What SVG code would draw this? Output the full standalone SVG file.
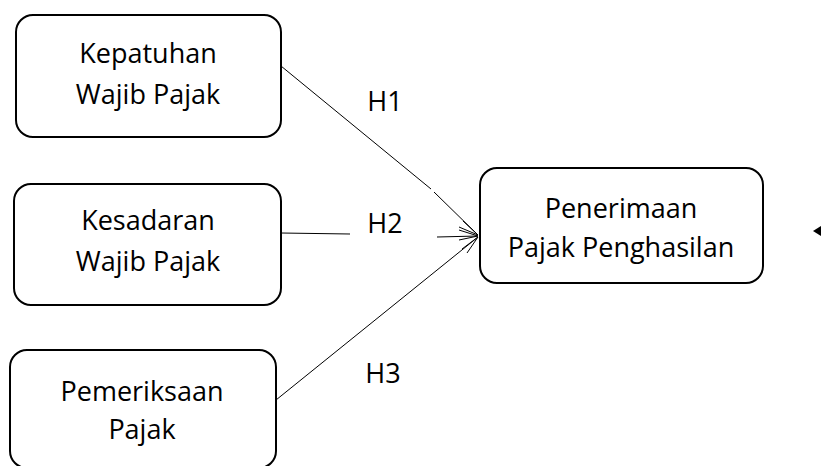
<svg xmlns="http://www.w3.org/2000/svg" width="821" height="466" viewBox="0 0 821 466">
<style>
.box{fill:#fff;stroke:#000;stroke-width:2}
.t{font-family:"Open Sans","Liberation Sans",sans-serif;font-size:27px;fill:#000;text-anchor:middle}
.c{stroke:#000;stroke-width:1;fill:none}
</style>
<rect width="821" height="466" fill="#fff"/>
<g id="n1"><rect class="box" x="16" y="15" width="265" height="122" rx="17"/><text class="t" x="148" y="63">Kepatuhan</text><text class="t" x="148" y="104">Wajib Pajak</text></g>
<g id="n2"><rect class="box" x="14" y="184" width="267" height="121" rx="17"/><text class="t" x="148" y="230">Kesadaran</text><text class="t" x="148" y="271">Wajib Pajak</text></g>
<g id="n3"><rect class="box" x="10" y="350" width="266" height="118" rx="17"/><text class="t" x="142" y="401">Pemeriksaan</text><text class="t" x="142" y="439">Pajak</text></g>
<g id="n4"><rect class="box" x="480" y="168" width="283" height="115" rx="17"/><text class="t" x="621" y="218">Penerimaan</text><text class="t" x="621" y="257">Pajak Penghasilan</text></g>
<g id="connectors">
<path class="c" d="M281 66 L431 189 M434 192 L478 235"/>
<path class="c" d="M281 233 L350 234 M437 237 L478 236"/>
<path class="c" d="M276 400 L478 237"/>
<path class="c" d="M463 221 L478 235 L459 227 M459 230 L478 236 L459 240 M462 249 L478 237 L467 253"/>
<polygon points="813,231 821,226 821,236" fill="#000"/>
</g>
<text class="t" x="385" y="111">H1</text>
<text class="t" x="385" y="233">H2</text>
<text class="t" x="383" y="383">H3</text>
</svg>
